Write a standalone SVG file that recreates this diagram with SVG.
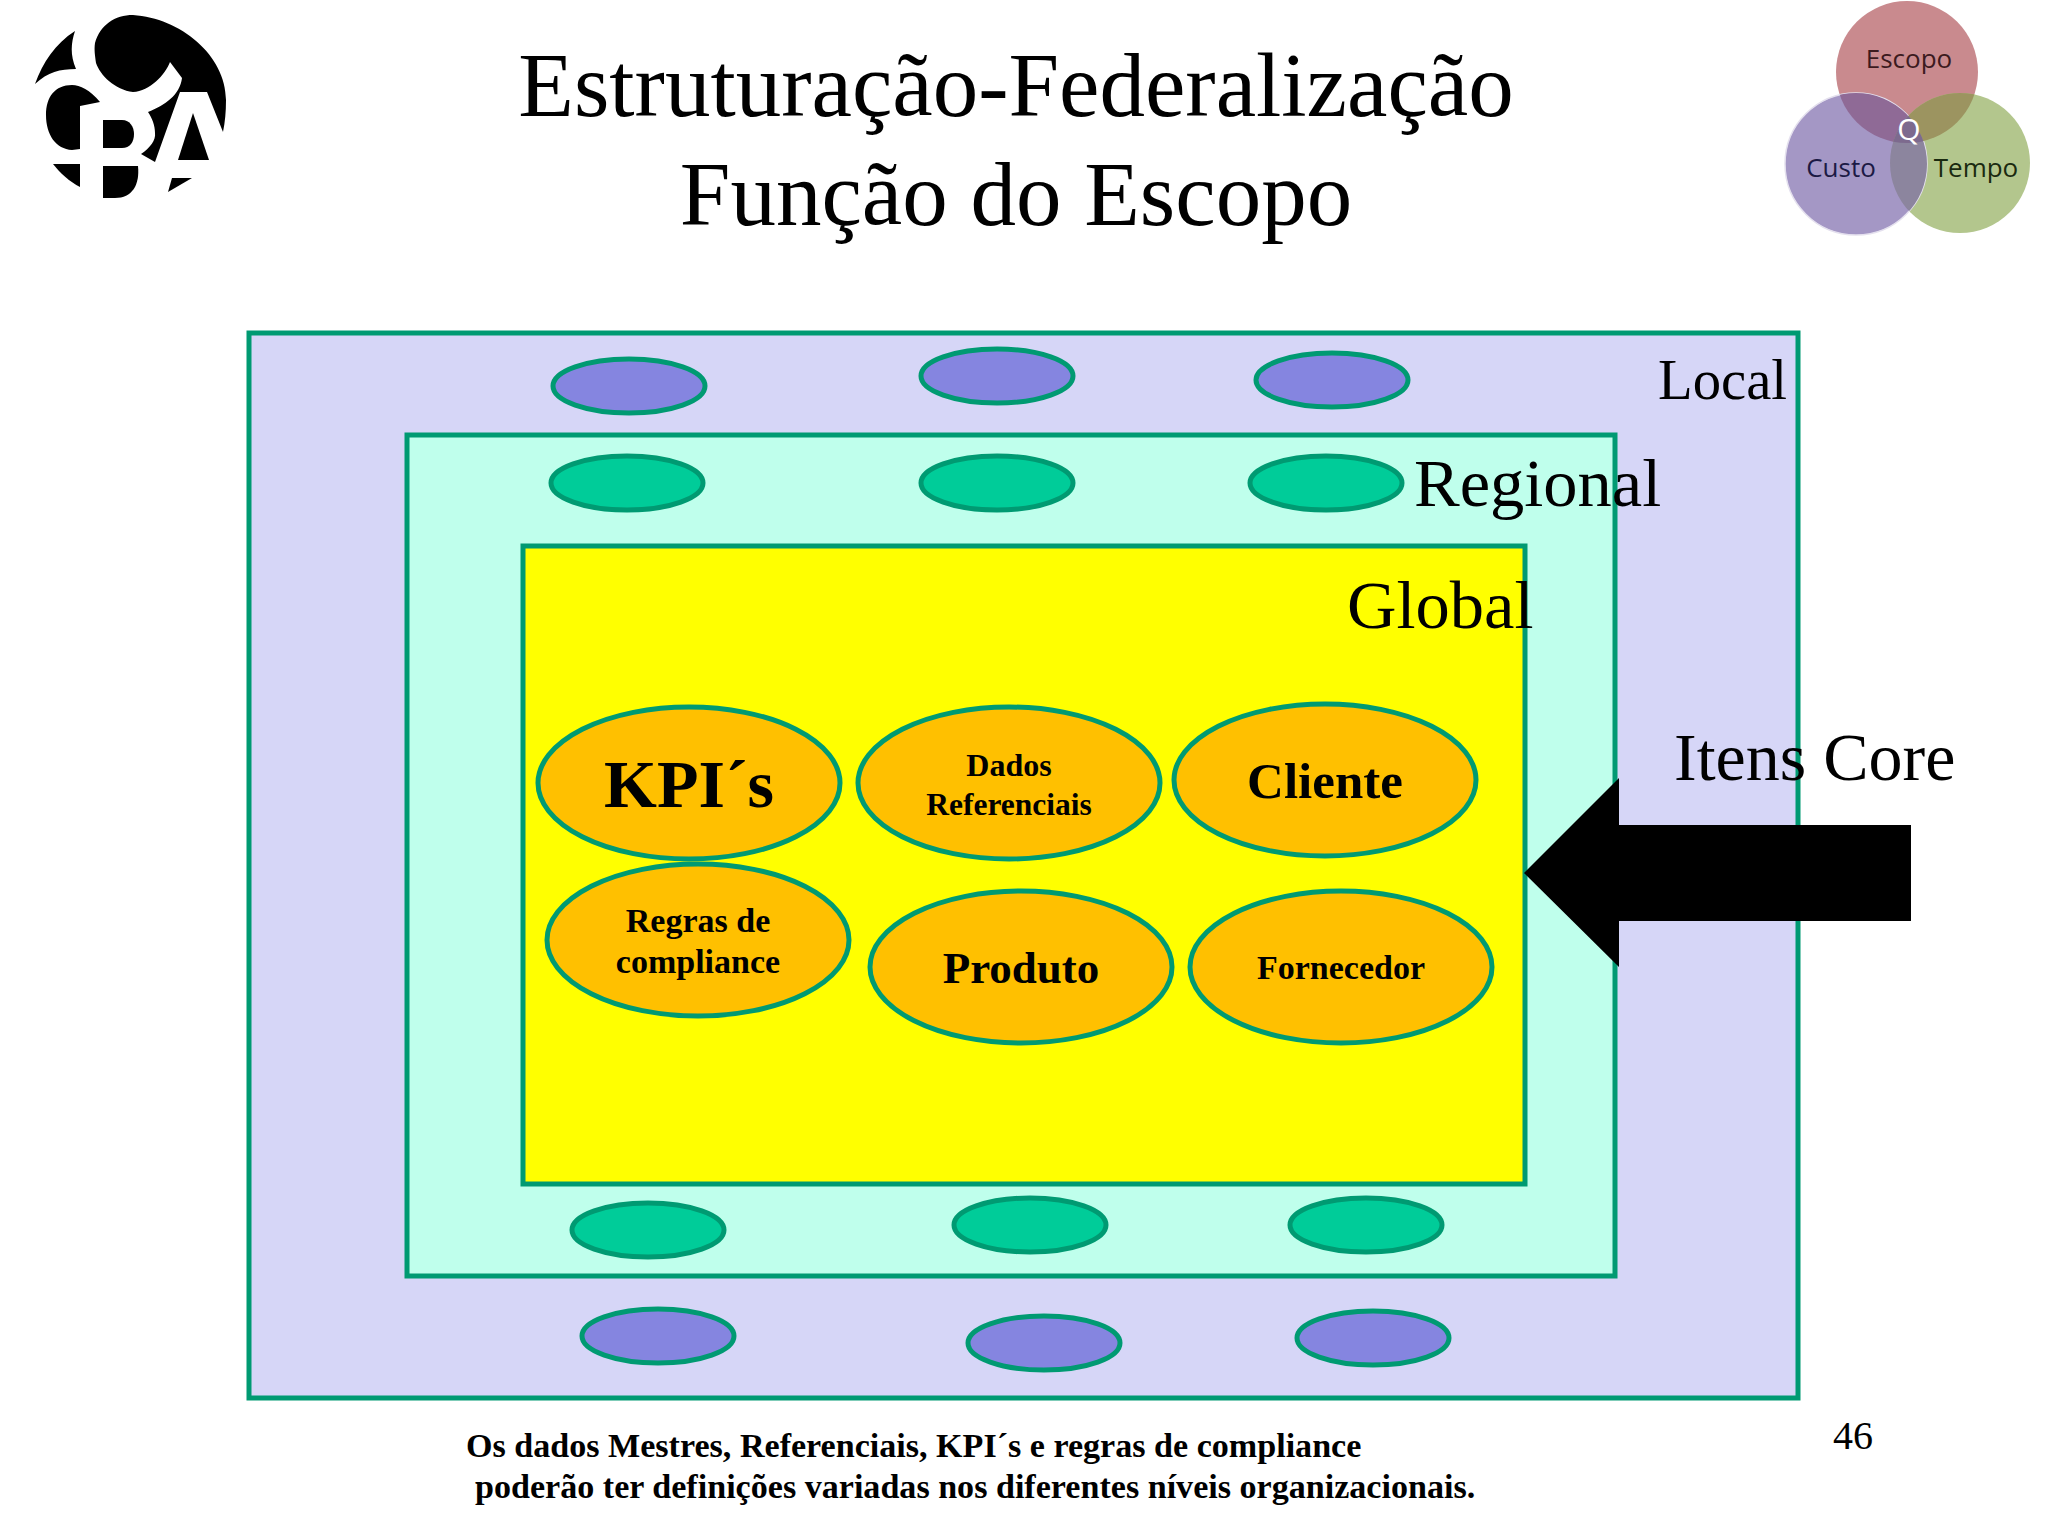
<svg xmlns="http://www.w3.org/2000/svg" width="2048" height="1536" viewBox="0 0 2048 1536">
<defs>
<clipPath id="cE"><circle cx="1907" cy="72" r="71"/></clipPath>
<clipPath id="cC"><circle cx="1856" cy="164" r="71"/></clipPath>
<clipPath id="cT"><circle cx="1960" cy="163" r="70"/></clipPath>
</defs>
<style>
text{font-family:"Liberation Serif","Times New Roman",serif;fill:#000}
.b{font-weight:bold;text-anchor:middle}
.m{text-anchor:middle}
.box{stroke:#009a72;stroke-width:5}
.o{fill:#ffc000;stroke:#009a72;stroke-width:5}
.p{fill:#8585e0;stroke:#009a72;stroke-width:5}
.g{fill:#00cc99;stroke:#009a72;stroke-width:5}
.v{font-family:"Open Sans","Noto Sans",sans-serif;text-anchor:middle}
</style>
<rect width="2048" height="1536" fill="#fff"/>
<g id="logo" fill="#000">
<path d="M75 31C55 44 43 62 35 84C48 72 60 69 76 69C70 55 71 43 75 31Z"/>
<path d="M95 43C100 25 115 15 133 15C180 18 226 55 226 100C226 112 225 122 223 132L207 92H180L155 162L141 154C150 148 156 140 155 133C155 125 152 118 148 112C165 105 180 95 182 78L170 62C165 75 150 91 133 92C115 90 100 75 96 63C95 55 94 50 95 43Z"/>
<path d="M100 102C90 90 80 85 72 85C55 85 46 97 46 115C46 135 56 149 72 150L80 149V106Z"/>
<path d="M103 120H122C130 120 134 127 134 134C134 142 130 148 122 148H103Z"/>
<path d="M53 164H80V187C70 182 60 173 53 164Z"/>
<path d="M103 166H138C140 185 132 198 115 198H103Z"/>
<path d="M193 113L209 160H178Z"/>
<path d="M172 178H192L168 192Z"/>
</g>
<g id="venn">
<circle cx="1907" cy="72" r="71" fill="#c98a8e"/>
<circle cx="1960" cy="163" r="70" fill="#b3c68d"/>
<circle cx="1856" cy="164" r="71" fill="#a497c5" stroke="#e4e0ee" stroke-width="1.5"/>
<g clip-path="url(#cE)"><circle cx="1856" cy="164" r="71" fill="#8f6a96"/><circle cx="1960" cy="163" r="70" fill="#9c9460"/></g>
<g clip-path="url(#cC)"><circle cx="1960" cy="163" r="70" fill="#8c859e"/></g>
<g clip-path="url(#cE)"><g clip-path="url(#cC)"><circle cx="1960" cy="163" r="70" fill="#7d6a8e"/></g></g>
<text class="v" x="1909" y="68" font-size="26" style="fill:#3c1a1e">Escopo</text>
<text class="v" x="1841" y="177" font-size="26" style="fill:#1c1a44">Custo</text>
<text class="v" x="1976" y="177" font-size="26" style="fill:#1a2a10">Tempo</text>
<text class="v" x="1909" y="140" font-size="30" style="fill:#fff">Q</text>
</g>
<g id="title">
<text class="m" x="1016" y="116" font-size="91">Estruturação-Federalização</text>
<text class="m" x="1016" y="225" font-size="91">Função do Escopo</text>
</g>
<g id="local"><rect class="box" x="249" y="333" width="1549" height="1065" fill="#d6d6f7"/></g>
<g id="regional"><rect class="box" x="407" y="435" width="1208" height="841" fill="#bfffec"/></g>
<g id="global"><rect class="box" x="523" y="546" width="1002" height="638" fill="#ffff00"/></g>
<g id="local-ellipses">
<ellipse class="p" cx="629" cy="386" rx="76" ry="27"/>
<ellipse class="p" cx="997" cy="376" rx="76" ry="27"/>
<ellipse class="p" cx="1332" cy="380" rx="76" ry="27"/>
<ellipse class="p" cx="658" cy="1336" rx="76" ry="27"/>
<ellipse class="p" cx="1044" cy="1343" rx="76" ry="27"/>
<ellipse class="p" cx="1373" cy="1338" rx="76" ry="27"/>
</g>
<g id="regional-ellipses">
<ellipse class="g" cx="627" cy="483" rx="76" ry="27"/>
<ellipse class="g" cx="997" cy="483" rx="76" ry="27"/>
<ellipse class="g" cx="1326" cy="483" rx="76" ry="27"/>
<ellipse class="g" cx="648" cy="1230" rx="76" ry="27"/>
<ellipse class="g" cx="1030" cy="1225" rx="76" ry="27"/>
<ellipse class="g" cx="1366" cy="1225" rx="76" ry="27"/>
</g>
<g id="kpis"><ellipse class="o" cx="689" cy="783" rx="151" ry="76"/><text class="b" x="689" y="807" font-size="68">KPI´s</text></g>
<g id="dados"><ellipse class="o" cx="1009" cy="783" rx="151" ry="76"/><text class="b" x="1009" y="776" font-size="32">Dados</text><text class="b" x="1009" y="815" font-size="31.5">Referenciais</text></g>
<g id="cliente"><ellipse class="o" cx="1325" cy="780" rx="151" ry="76"/><text class="b" x="1325" y="798" font-size="51">Cliente</text></g>
<g id="regras"><ellipse class="o" cx="698" cy="940" rx="151" ry="76"/><text class="b" x="698" y="932" font-size="34">Regras de</text><text class="b" x="698" y="973" font-size="34">compliance</text></g>
<g id="produto"><ellipse class="o" cx="1021" cy="967" rx="151" ry="76"/><text class="b" x="1021" y="983" font-size="45">Produto</text></g>
<g id="fornecedor"><ellipse class="o" cx="1341" cy="967" rx="151" ry="76"/><text class="b" x="1341" y="979" font-size="34">Fornecedor</text></g>
<g id="labels">
<text x="1658" y="399" font-size="56.7">Local</text>
<text x="1414" y="506" font-size="68.5">Regional</text>
<text x="1347" y="628" font-size="68.5">Global</text>
<text x="1674" y="780" font-size="68">Itens Core</text>
<text x="1833" y="1449" font-size="40">46</text>
</g>
<g id="connectors"><path d="M1524 873L1619 778V825H1911V921H1619V967Z" fill="#000"/></g>
<g id="note">
<text x="466" y="1457" font-size="34.1" font-weight="bold">Os dados Mestres, Referenciais, KPI´s e regras de compliance</text>
<text x="475" y="1498" font-size="34.1" font-weight="bold">poderão ter definições variadas nos diferentes níveis organizacionais.</text>
</g>
</svg>
